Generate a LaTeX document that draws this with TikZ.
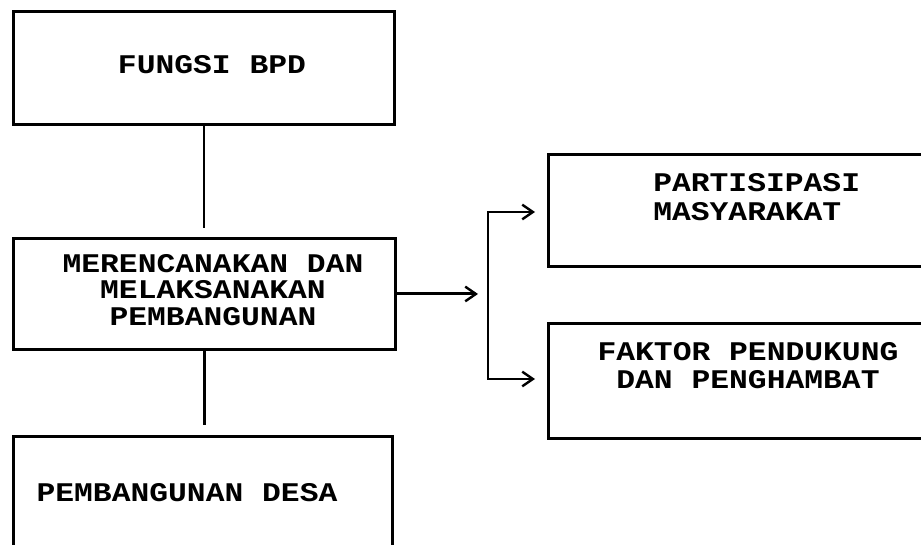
\documentclass[tikz,border=0pt]{standalone}
\usepackage{fontspec}
\usepackage{graphicx}
\setmonofont{Liberation Mono}
\usetikzlibrary{arrows.meta,calc}
\newcommand{\sqz}[1]{\scalebox{1}[0.86]{#1}}
\begin{document}
\begin{tikzpicture}[x=0.75pt,y=-0.75pt,
  ln/.style={line width=2.2pt},
  box/.style={draw,line width=2.2pt,inner sep=0pt,anchor=north west},
  lbl/.style={inner sep=0pt,font=\ttfamily\bfseries\fontsize{23.5}{20}\selectfont},
  barb/.style={line width=2.2pt,-{Straight Barb[length=8pt,width=11pt,line width=1.8pt]}},
  barbs/.style={line width=2.2pt,{Straight Barb[length=8pt,width=11pt,line width=1.8pt]}-{Straight Barb[length=8pt,width=11pt,line width=1.8pt]}}]
\useasboundingbox (0,0) rectangle (921,545);
\clip (0,0) rectangle (921,545);
% boxes
\node[box,minimum width=381*0.75pt,minimum height=113*0.75pt] (b1) at (12,10) {};
\node[box,minimum width=382*0.75pt,minimum height=111*0.75pt] (b2) at (12,237) {};
\node[box,minimum width=379*0.75pt,minimum height=130*0.75pt] (b5) at (12,435) {};
\node[box,minimum width=400*0.75pt,minimum height=112*0.75pt] (b3) at (547,153) {};
\node[box,minimum width=400*0.75pt,minimum height=115*0.75pt] (b4) at (547,322) {};
% texts
\node[lbl] (t1) at (212,64.5) {\sqz{FUNGSI BPD}};
\node[lbl,align=center,font=\ttfamily\bfseries\fontsize{23.5}{20}\selectfont] (t2) at (213,290) {\sqz{MERENCANAKAN DAN}\\\sqz{MELAKSANAKAN}\\\sqz{PEMBANGUNAN}};
\node[lbl] (t5) at (187,493) {\sqz{PEMBANGUNAN DESA}};
\node[lbl,align=left,anchor=west,font=\ttfamily\bfseries\fontsize{23.5}{21.3}\selectfont] (t3) at (653,197) {\sqz{PARTISIPASI}\\\sqz{MASYARAKAT}};
\node[lbl,align=center,font=\ttfamily\bfseries\fontsize{23.5}{21}\selectfont] (t4) at (748,366) {\sqz{FAKTOR PENDUKUNG}\\\sqz{DAN PENGHAMBAT}};
% connectors
\coordinate (c2) at ($(b2.north)+(0,-9)$);
\draw[ln] (b1.south) -- (b1.south |- c2);
\coordinate (c5) at ($(b5.north)+(0,-10)$);
\draw[ln] (b2.south) -- (b2.south |- c5);
\coordinate (m) at (478,0);
\draw[barb] (b2.east) -- (b2.east -| m);
\coordinate (jt) at (488,212);
\coordinate (jb) at (488,379);
\coordinate (a3) at ($(b3.west |- jt)+(-12,0)$);
\coordinate (a4) at ($(b4.west |- jb)+(-12,0)$);
\draw[barbs] (a3) -- (jt) -- (jb) -- (a4);
\end{tikzpicture}
\end{document}
